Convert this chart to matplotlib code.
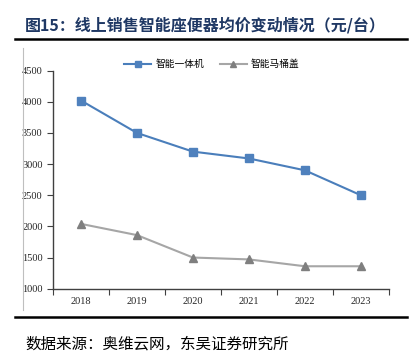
import matplotlib.pyplot as plt
from matplotlib.lines import Line2D

years = ['2018', '2019', '2020', '2021', '2022', '2023']
all_in_one = [4020, 3500, 3200, 3090, 2900, 2500]
smart_lid = [2040, 1860, 1500, 1470, 1360, 1360]

cjk = ['Noto Sans CJK SC', 'DejaVu Sans']
serif = ['Liberation Serif', 'DejaVu Serif']

fig = plt.figure(figsize=(4.11, 3.54), dpi=100)
ax = fig.add_axes([0.129, 0.1845, 0.817, 0.616])

x = range(len(years))
ax.plot(x, all_in_one, color='#4A7EBB', lw=1.5, marker='s', markersize=6,
        markerfacecolor='#4F81BD', markeredgecolor='#4F81BD', label='智能一体机')
ax.plot(x, smart_lid, color='#A6A6A6', lw=1.5, marker='^', markersize=6,
        markerfacecolor='#7F7F7F', markeredgecolor='#7F7F7F', label='智能马桶盖')

ax.set_xlim(-0.5, len(years) - 0.5)
ax.set_ylim(1000, 4500)
ax.set_yticks(range(1000, 4501, 500))
ax.set_xticks([i - 0.5 for i in range(len(years) + 1)], minor=False)
ax.set_xticklabels([])
ax.set_xticks(list(x), minor=True)
ax.set_xticklabels(years, minor=True)
ax.tick_params(axis='x', which='major', length=4, direction='out', color='#404040')
ax.tick_params(axis='x', which='minor', length=0, pad=6)
ax.tick_params(axis='y', length=4, direction='out', color='#404040')
for lab in ax.get_xticklabels(minor=True) + ax.get_yticklabels():
    lab.set_fontfamily(serif)
    lab.set_fontsize(7.5)
    lab.set_color('#262626')
for s in ['top', 'right']:
    ax.spines[s].set_visible(False)
for s in ['left', 'bottom']:
    ax.spines[s].set_color('#404040')
    ax.spines[s].set_linewidth(1.0)

leg = ax.legend(loc='center', bbox_to_anchor=(0.473, 1.03), ncol=2, frameon=False,
                prop={'family': cjk, 'size': 7}, handlelength=2.8, columnspacing=1.6,
                handletextpad=0.4, markerscale=0.8)

fig.text(0.061, 0.93, '图15：线上销售智能座便器均价变动情况（元/台）', fontsize=11.5,
         fontweight='bold', color='#1F3864', family=cjk, va='center')
fig.add_artist(Line2D([0.036, 0.99], [0.89, 0.89], color='black', lw=1.8))
fig.add_artist(Line2D([0.056, 0.056], [0.125, 0.865], color='#BFBFBF', lw=0.8))
fig.add_artist(Line2D([0.036, 0.99], [0.105, 0.105], color='black', lw=1.8))
fig.text(0.061, 0.028, '数据来源：奥维云网，东吴证券研究所', fontsize=11.2,
         color='black', family=cjk, va='center')

plt.savefig('out.png', dpi=100)
